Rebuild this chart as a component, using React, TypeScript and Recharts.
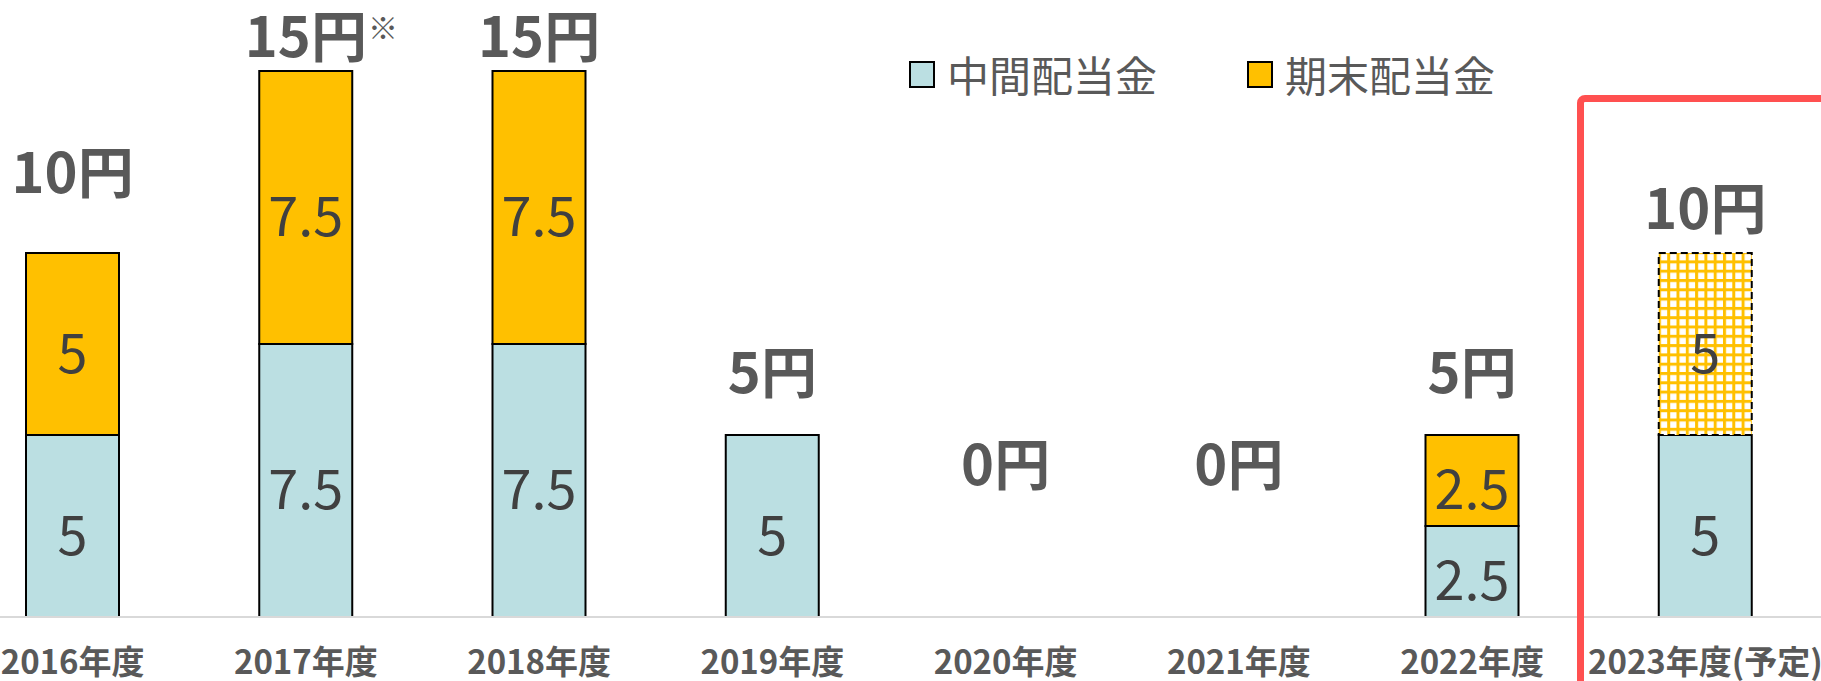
import { ComposedChart, Bar, Line, XAxis, YAxis, Legend, LabelList } from "recharts";

// 配当金の推移 (円)
const years = [
  "2016年度",
  "2017年度",
  "2018年度",
  "2019年度",
  "2020年度",
  "2021年度",
  "2022年度",
  "2023年度(予定)",
];
const interim = [5, 7.5, 7.5, 5, 0, 0, 2.5, 5];
const yearEnd = [5, 7.5, 7.5, 0, 0, 0, 2.5, 0];
const planned = [0, 0, 0, 0, 0, 0, 0, 5];
const totalNotes = ["", "※", "", "", "", "", "", ""];
const legendKeys = ["interim", "yearEnd"];

// how far (px) each total label sits above its stack
const totalLift = [60, 14, 14, 42, 132, 132, 42, 24];

const data = years.map((year, i) => ({
  year,
  interim: interim[i],
  yearEnd: yearEnd[i],
  planned: planned[i],
  total: interim[i] + yearEnd[i] + planned[i],
}));

const FONT = '"Noto Sans CJK JP", "Noto Sans", sans-serif';
const BLUE = "#BBDFE2";
const ORANGE = "#FFC000";

const SegmentLabel = (props: any) => {
  const { x, y, width, height, value } = props;
  if (!value) return null;
  return (
    <text
      x={Number(x) + Number(width) / 2}
      y={Number(y) + Number(height) / 2 + 5}
      textAnchor="middle"
      dominantBaseline="central"
      fill="#404040"
      fontSize={54}
      fontFamily={FONT}
    >
      {value}
    </text>
  );
};

const TotalLabel = (props: any) => {
  const { x, y, value, index } = props;
  const ty = Number(y) - totalLift[index];
  return (
    <g>
      <text
        x={x}
        y={ty}
        textAnchor="middle"
        fill="#595959"
        fontSize={56}
        fontWeight={700}
        fontFamily={FONT}
      >
        {value}円
      </text>
      {totalNotes[index] && (
        <text
          x={Number(x) + 62}
          y={ty - 18}
          fill="#595959"
          fontSize={30}
          fontFamily={FONT}
        >
          {totalNotes[index]}
        </text>
      )}
    </g>
  );
};

const YearTick = ({ x, y, payload }: any) => (
  <text
    x={x}
    y={Number(y) + 57}
    textAnchor="middle"
    fill="#595959"
    fontSize={33}
    fontWeight={700}
    fontFamily={FONT}
  >
    {payload.value}
  </text>
);

const renderLegend = (props: any) => {
  const items = (props.payload || []).filter((p: any) =>
    legendKeys.includes(p.dataKey)
  );
  return (
    <div
      style={{
        display: "flex",
        alignItems: "center",
        height: 42,
        whiteSpace: "nowrap",
      }}
    >
      {items.map((item: any, i: number) => (
        <div
          key={i}
          style={{
            display: "flex",
            alignItems: "center",
            marginRight: 90,
            flexShrink: 0,
          }}
        >
          <span
            style={{
              width: 22,
              height: 23,
              flexShrink: 0,
              background: item.color,
              border: "2px solid #000",
              marginRight: 12,
            }}
          />
          <span
            style={{
              fontSize: 42,
              lineHeight: "42px",
              color: "#595959",
              fontFamily: FONT,
            }}
          >
            {item.value}
          </span>
        </div>
      ))}
    </div>
  );
};

export default function App() {
  return (
    <div
      style={{
        position: "absolute",
        left: 0,
        top: 0,
        width: 1821,
        height: 681,
        overflow: "hidden",
        background: "#fff",
      }}
    >
      <div style={{ position: "absolute", left: -44, top: 0 }}>
        <ComposedChart
          width={1866}
          height={681}
          data={data}
          margin={{ top: 71, right: 0, bottom: 0, left: 0 }}
        >
          <defs>
            <pattern
              id="planGrid"
              width={9.3}
              height={9.3}
              patternUnits="userSpaceOnUse"
            >
              <rect width={9.3} height={9.3} fill={ORANGE} />
              <rect x={3} y={3} width={6.3} height={6.3} fill="#fff" />
            </pattern>
          </defs>
          <XAxis
            dataKey="year"
            height={64}
            interval={0}
            tickSize={0}
            tickMargin={0}
            tickLine={false}
            axisLine={{ stroke: "#D9D9D9", strokeWidth: 2 }}
            tick={<YearTick />}
          />
          <YAxis hide domain={[0, 15]} />
          <Legend
            verticalAlign="middle"
            align="center"
            content={renderLegend}
            wrapperStyle={{ top: 53, left: 953, width: 700 }}
          />
          <Bar
            dataKey="interim"
            name="中間配当金"
            stackId="d"
            fill={BLUE}
            stroke="#000"
            strokeWidth={2}
            barSize={93}
            isAnimationActive={false}
          >
            <LabelList dataKey="interim" content={<SegmentLabel />} />
          </Bar>
          <Bar
            dataKey="yearEnd"
            name="期末配当金"
            stackId="d"
            fill={ORANGE}
            stroke="#000"
            strokeWidth={2}
            barSize={93}
            isAnimationActive={false}
          >
            <LabelList dataKey="yearEnd" content={<SegmentLabel />} />
          </Bar>
          <Bar
            dataKey="planned"
            name="期末配当金(予定)"
            stackId="d"
            fill="url(#planGrid)"
            stroke="#000"
            strokeWidth={2}
            strokeDasharray="7 4"
            barSize={93}
            legendType="none"
            isAnimationActive={false}
          >
            <LabelList dataKey="planned" content={<SegmentLabel />} />
          </Bar>
          <Line
            dataKey="total"
            stroke="none"
            dot={false}
            activeDot={false}
            legendType="none"
            isAnimationActive={false}
          >
            <LabelList dataKey="total" content={<TotalLabel />} />
          </Line>
        </ComposedChart>
      </div>
      <div
        style={{
          position: "absolute",
          left: 1577,
          top: 95,
          width: 400,
          height: 800,
          border: "7px solid #FF5050",
          borderRadius: 8,
          pointerEvents: "none",
        }}
      />
    </div>
  );
}
